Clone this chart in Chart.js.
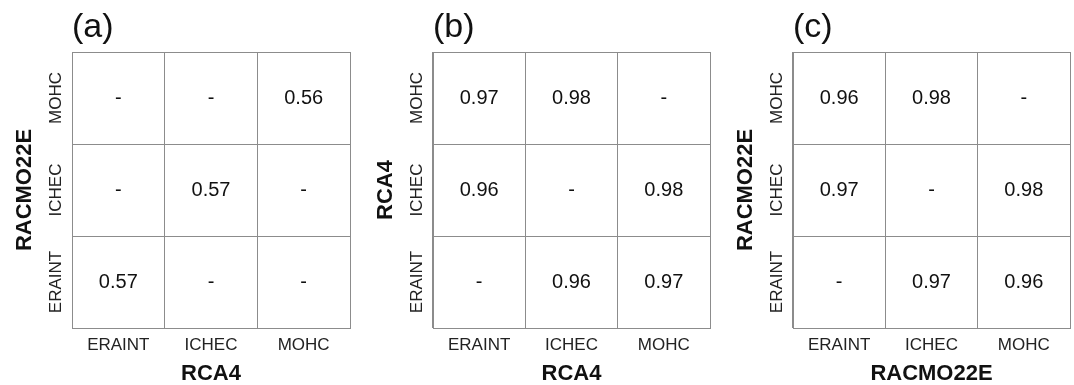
<!DOCTYPE html>
<html>
<head>
<meta charset="utf-8">
<script src="https://cdn.jsdelivr.net/npm/chart.js@4.4.1/dist/chart.umd.min.js"></script>
<style>
  html, body { margin: 0; padding: 0; background: #fff; overflow: hidden; }
  .panel { position: absolute; top: 0; height: 385px; }
</style>
</head>
<body>
<div class="panel" style="left:0px;width:357px"><canvas id="chartA"></canvas></div>
<div class="panel" style="left:360px;width:357px"><canvas id="chartB"></canvas></div>
<div class="panel" style="left:714px;width:360px"><canvas id="chartC"></canvas></div>
<script>
// ====== DATA ======
const models = ['ERAINT', 'ICHEC', 'MOHC'];

// rows go bottom -> top (ERAINT, ICHEC, MOHC), columns left -> right; null = '-'
const valuesA = [
  [0.57, null, null],
  [null, 0.57, null],
  [null, null, 0.56]
];
const valuesB = [
  [null, 0.96, 0.97],
  [0.96, null, 0.98],
  [0.97, 0.98, null]
];
const valuesC = [
  [null, 0.97, 0.96],
  [0.97, null, 0.98],
  [0.96, 0.98, null]
];

const panelTitles = ['(a)', '(b)', '(c)'];
const xTitles = ['RCA4', 'RCA4', 'RACMO22E'];
const yTitles = ['RACMO22E', 'RCA4', 'RACMO22E'];

const FONT = '"Liberation Sans", Arial, Helvetica, sans-serif';
const GRID = '#8c8c8c';

// ====== CELL TEXT PLUGIN ======
const cellText = {
  id: 'cellText',
  afterDatasetsDraw(chart) {
    const ctx = chart.ctx;
    const meta = chart.getDatasetMeta(0);
    const ds = chart.data.datasets[0];
    ctx.save();
    ctx.font = '20px ' + FONT;
    ctx.fillStyle = '#111';
    ctx.textAlign = 'center';
    ctx.textBaseline = 'middle';
    meta.data.forEach((pt, i) => {
      const v = ds.data[i].v;
      ctx.fillText(v === null ? '-' : v.toFixed(2), pt.x, pt.y);
    });
    ctx.restore();
  }
};

function makeChart(id, values, idx, yWidth, yTitlePad, yTickPad, padRight) {
  const points = [];
  values.forEach((row, r) => {
    row.forEach((v, c) => {
      points.push({ x: models[c], y: models[r], v: v });
    });
  });

  return new Chart(document.getElementById(id), {
    type: 'scatter',
    data: {
      datasets: [{
        data: points,
        pointRadius: 0,
        pointHoverRadius: 0,
        showLine: false
      }]
    },
    options: {
      responsive: true,
      maintainAspectRatio: false,
      animation: false,
      events: [],
      layout: { padding: { left: 0, right: padRight, top: 0, bottom: 0 } },
      plugins: {
        legend: { display: false },
        tooltip: { enabled: false },
        title: {
          display: true,
          text: panelTitles[idx],
          align: 'start',
          fullSize: false,
          color: '#111',
          font: { family: FONT, size: 34, weight: 'normal', lineHeight: 1 },
          padding: { top: 11, bottom: 7 }
        }
      },
      scales: {
        x: {
          type: 'category',
          labels: models,
          offset: true,
          grid: { offset: true, color: GRID, lineWidth: 1, drawTicks: false },
          border: { color: GRID, width: 1 },
          ticks: {
            color: '#222',
            font: { family: FONT, size: 17 },
            padding: 7,
            maxRotation: 0,
            minRotation: 0
          },
          title: {
            display: true,
            text: xTitles[idx],
            color: '#111',
            font: { family: FONT, size: 22, weight: 'bold', lineHeight: 1 },
            padding: { top: 0, bottom: 0 }
          },
          afterFit(scale) { scale.height = 57; }
        },
        y: {
          type: 'category',
          labels: models,
          reverse: true,
          offset: true,
          grid: { offset: true, color: GRID, lineWidth: 1, drawTicks: false },
          border: { color: GRID, width: 1 },
          ticks: {
            color: '#222',
            font: { family: FONT, size: 17 },
            minRotation: 90,
            maxRotation: 90,
            crossAlign: 'center',
            padding: yTickPad
          },
          title: {
            display: true,
            text: yTitles[idx],
            color: '#111',
            font: { family: FONT, size: 22, weight: 'bold', lineHeight: 1 },
            padding: { top: yTitlePad, bottom: 0 }
          },
          afterFit(scale) { scale.width = yWidth; }
        }
      }
    },
    plugins: [cellText]
  });
}

document.addEventListener('DOMContentLoaded', () => {
  makeChart('chartA', valuesA, 0, 72, 14, -15, 7);
  makeChart('chartB', valuesB, 1, 73, 15, -15, 7);
  makeChart('chartC', valuesC, 2, 79, 21, -15, 4);
});
</script>
</body>
</html>
